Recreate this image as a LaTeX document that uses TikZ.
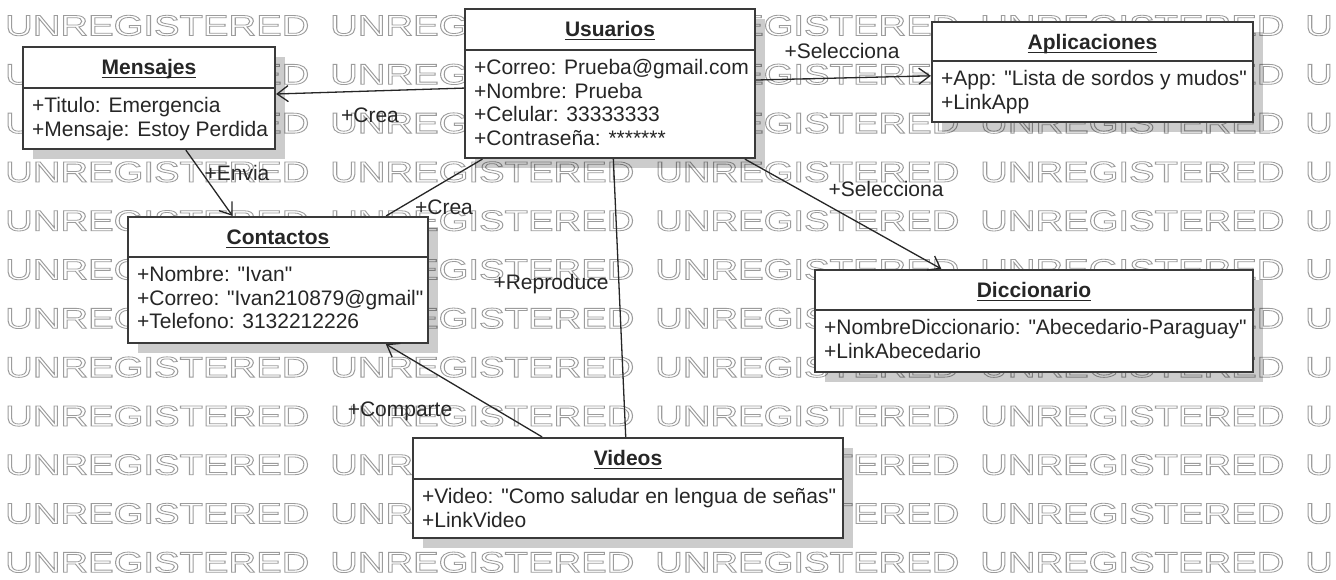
\documentclass[tikz,border=0pt]{standalone}
\usepackage{fontspec}
\usepackage{graphicx}
\setmainfont{Liberation Sans}
% family without TeX input mapping, so " stays a straight quote
\newfontfamily\umlfont{Liberation Sans}
\usetikzlibrary{arrows.meta,shadows,calc}

\definecolor{ink}{HTML}{262626}
\definecolor{edge}{HTML}{3A3A3A}
\definecolor{wmgray}{HTML}{9C9C9C}

% straight double quote
\newcommand\dq{\symbol{34}}
% stroked (hollow) lettering for the background band
\newcommand\hollow[1]{\special{pdf:literal direct 1 Tr 0.8 w}#1\special{pdf:literal direct 0 Tr}}

\tikzset{
  classbox/.style={draw=edge, line width=2.2pt, fill=white, inner sep=0pt,
    general shadow={fill=black, opacity=0.2, shadow xshift=10pt, shadow yshift=-10pt}},
  titletext/.style={font=\umlfont\fontsize{21}{23.5}\selectfont\bfseries, text=ink, inner sep=0pt},
  attrtext/.style={font=\umlfont\fontsize{21}{23.5}\selectfont, text=ink, inner sep=0pt},
  lbl/.style={font=\umlfont\fontsize{21}{23.5}\selectfont, text=ink, inner sep=0pt},
  wm/.style={font=\umlfont\fontsize{29}{29}\selectfont, text=wmgray, inner sep=0pt},
  assoc/.style={draw=ink, line width=1.3pt},
  nav/.style={assoc, -{Straight Barb[length=11pt, width=16pt]}},
}

% class box: name, centre, width, height, header height, title
\newcommand\umlclass[6]{%
  \node[classbox, minimum width=#3pt, minimum height=#4pt] (#1) at (#2) {};
  \draw[edge, line width=2.2pt] ($(#1.north west)+(0,#5)$) -- ($(#1.north east)+(0,#5)$);
  \node[titletext, anchor=base] (#1-t) at ($(#1.north)+(0,28.5)$) {#6};
  \draw[ink, line width=1.3pt] ($(#1-t.base west)+(0,3.3)$) -- ($(#1-t.base east)+(0,3.3)$);
}
% attribute line: box, header height, line index, text
\newcommand\umlattr[4]{%
  \node[attrtext, anchor=base west] (#1-a#3) at ($(#1.north west)+(10,#2+25+23.5*#3)$) {#4};
}

\begin{document}
\begin{tikzpicture}[x=1pt, y=-1pt]
  \useasboundingbox (0,0) rectangle (1336,579);
  \fill[white] (0,0) rectangle (1336,579);

  % background lettering
  \foreach \r in {0,...,11}{
    \foreach \c in {0,...,3}{
      \node[wm, anchor=base west] (wm-\r-\c) at (5+325*\c, 35.5+48.8*\r)
        {\scalebox{1.32}[1]{\hollow{UNREGISTERED}}};
    }
    \node[wm, anchor=base west] (wm-\r-4) at (1305, 35.5+48.8*\r)
      {\scalebox{1.32}[1]{\hollow{U}}};
  }

  % classes
  \umlclass{men}{149,98}{252}{102}{42}{Mensajes}
  \umlattr{men}{42}{0}{+Titulo: Emergencia}
  \umlattr{men}{42}{1}{+Mensaje: Estoy Perdida}

  \umlclass{usu}{610,83.5}{290}{149}{42}{Usuarios}
  \umlattr{usu}{42}{0}{+Correo: Prueba@gmail.com}
  \umlattr{usu}{42}{1}{+Nombre: Prueba}
  \umlattr{usu}{42}{2}{+Celular: 33333333}
  \umlattr{usu}{42}{3}{+Contraseña: *******}

  \umlclass{apl}{1092.5,72}{321}{100}{40}{Aplicaciones}
  \umlattr{apl}{40}{0}{+App: \dq Lista de sordos y mudos\dq}
  \umlattr{apl}{40}{1}{+LinkApp}

  \umlclass{con}{278,280}{300}{126}{41}{Contactos}
  \umlattr{con}{41}{0}{+Nombre: \dq Ivan\dq}
  \umlattr{con}{41}{1}{+Correo: \dq Ivan210879@gmail\dq}
  \umlattr{con}{41}{2}{+Telefono: 3132212226}

  \umlclass{dic}{1034,321}{438}{102}{41}{Diccionario}
  \umlattr{dic}{41}{0}{+NombreDiccionario: \dq Abecedario-Paraguay\dq}
  \umlattr{dic}{41}{1}{+LinkAbecedario}

  \umlclass{vid}{628,488}{430}{100}{42}{Videos}
  \umlattr{vid}{42}{0}{+Video: \dq Como saludar en lengua de señas\dq}
  \umlattr{vid}{42}{1}{+LinkVideo}

  % associations
  \draw[nav] (usu) -- (men);
  \draw[nav] (usu) -- (apl);
  \draw[nav] (usu) -- (dic);
  \draw[assoc] (usu) -- (con);
  \draw[nav] (men) -- (con);
  \draw[assoc] (usu) -- (vid);
  \draw[nav] (vid) -- (con);

  % association labels
  \node[lbl, anchor=base] (l-crea-men) at (370,122.5) {+Crea};
  \node[lbl, anchor=base] (l-sel-apl) at (842,58.5) {+Selecciona};
  \node[lbl, anchor=base] (l-sel-dic) at (886,196.5) {+Selecciona};
  \node[lbl, anchor=base] (l-envia) at (237,180.5) {+Envia};
  \node[lbl, anchor=base] (l-crea-con) at (444,214.5) {+Crea};
  \node[lbl, anchor=base] (l-repro) at (551,289.5) {+Reproduce};
  \node[lbl, anchor=base] (l-comp) at (400,416.5) {+Comparte};
\end{tikzpicture}
\end{document}
